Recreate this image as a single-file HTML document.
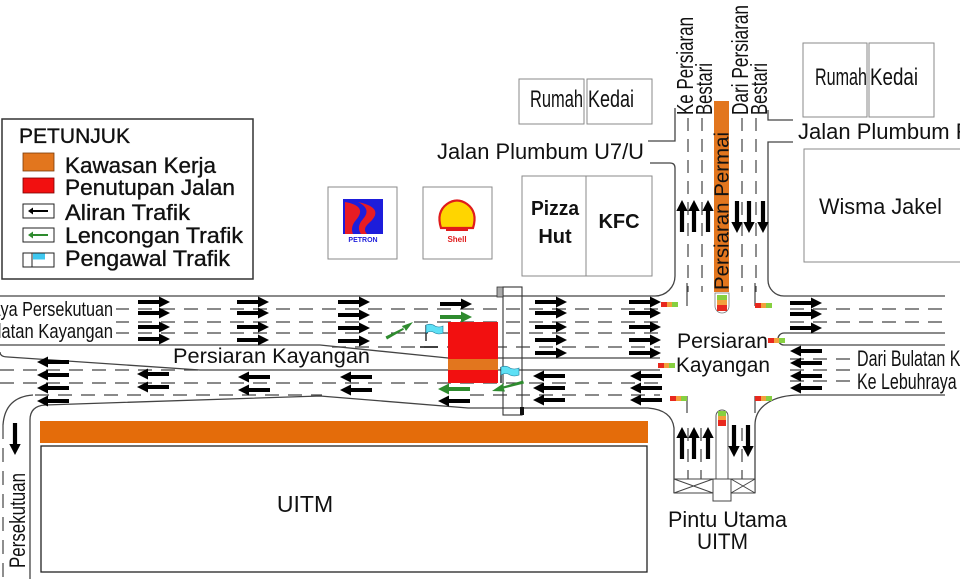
<!DOCTYPE html>
<html><head><meta charset="utf-8"><style>
html,body{margin:0;padding:0;background:#fff;}
body{width:960px;height:579px;overflow:hidden;}
svg{display:block;}
text{font-family:"Liberation Sans",Arial,sans-serif;fill:#111;}
</style></head><body>
<svg width="960" height="579" viewBox="0 0 960 579" xmlns="http://www.w3.org/2000/svg">
<defs>
<path id="R" d="M0,-2H21V-5.5L32,0L21,5.5V2H0Z"/>
<path id="L" d="M32,-2H11V-5.5L0,0L11,5.5V2H32Z"/>
<path id="U" d="M-2.1,32V11H-5.7L0,0L5.7,11H2.1V32Z"/>
<path id="D" d="M-2.1,0V21H-5.7L0,32L5.7,21H2.1V0Z"/>
</defs>
<rect width="960" height="579" fill="#fff"/>

<!-- Legend -->
<rect x="2" y="119" width="251" height="160" fill="#fff" stroke="#333" stroke-width="1.5"/>
<g stroke="#111" stroke-width="0.35">
<text x="19" y="143" font-size="21" textLength="111" lengthAdjust="spacingAndGlyphs">PETUNJUK</text>
<text x="65" y="173" font-size="22" textLength="151" lengthAdjust="spacingAndGlyphs">Kawasan Kerja</text>
<text x="65" y="195" font-size="22" textLength="170" lengthAdjust="spacingAndGlyphs">Penutupan Jalan</text>
<text x="65" y="220" font-size="22" textLength="125" lengthAdjust="spacingAndGlyphs">Aliran Trafik</text>
<text x="65" y="243" font-size="22" textLength="178" lengthAdjust="spacingAndGlyphs">Lencongan Trafik</text>
<text x="65" y="266" font-size="22" textLength="165" lengthAdjust="spacingAndGlyphs">Pengawal Trafik</text>
</g>
<rect x="23" y="153" width="31" height="18" fill="#E2761E" stroke="#7a3a08" stroke-width="0.8"/>
<rect x="23" y="178" width="31" height="15" fill="#F21010" stroke="#7a0000" stroke-width="0.8"/>
<rect x="23" y="204" width="31" height="14" fill="#fff" stroke="#222" stroke-width="1"/>
<path d="M48,210H33V207.5L28,211L33,214.5V212H48Z" fill="#000"/>
<rect x="23" y="228" width="31" height="14" fill="#fff" stroke="#222" stroke-width="1"/>
<path d="M48,234H33V231.5L28,235L33,238.5V236H48Z" fill="#2E8B2E"/>
<rect x="23" y="253" width="31" height="14" fill="#fff" stroke="#222" stroke-width="1"/>
<line x1="32" y1="253" x2="32" y2="267" stroke="#222" stroke-width="1"/>
<path d="M33,253.5H45V259.5H33Z" fill="#3FC8F0"/>

<!-- Buildings top center -->
<rect x="519" y="79" width="65" height="45" fill="none" stroke="#8a8a8a"/>
<rect x="587" y="79" width="65" height="45" fill="none" stroke="#8a8a8a"/>
<text x="530" y="107" font-size="24" textLength="53" lengthAdjust="spacingAndGlyphs">Rumah</text>
<text x="588" y="107" font-size="24" textLength="46" lengthAdjust="spacingAndGlyphs">Kedai</text>
<text x="437" y="159" font-size="22" textLength="207" lengthAdjust="spacingAndGlyphs">Jalan Plumbum U7/U</text>

<rect x="522" y="176" width="130" height="100" fill="none" stroke="#8a8a8a"/>
<line x1="586" y1="176" x2="586" y2="276" stroke="#8a8a8a"/>
<text x="555" y="215" font-size="20" font-weight="bold" text-anchor="middle" textLength="48" lengthAdjust="spacingAndGlyphs">Pizza</text>
<text x="555" y="243" font-size="20" font-weight="bold" text-anchor="middle">Hut</text>
<text x="619" y="228" font-size="20" font-weight="bold" text-anchor="middle">KFC</text>

<!-- Petron -->
<rect x="328" y="187" width="69" height="72" fill="#fff" stroke="#8a8a8a"/>
<rect x="343" y="199" width="40" height="35" fill="#1d1ddb"/>
<path d="M345,202 Q368,206 356,220 Q350,227 353,234 L345,234 Z" fill="#e81c24"/>
<path d="M358,202 Q386,208 369,223 Q362,229 367,234 L361,234 Q356,227 363,219 Q372,209 358,202Z" fill="#e81c24"/>
<text x="363" y="242" font-size="7" font-weight="bold" text-anchor="middle" style="fill:#1d1ddb">PETRON</text>
<!-- Shell -->
<rect x="423" y="187" width="69" height="72" fill="#fff" stroke="#8a8a8a"/>
<path d="M441,228 Q436,212 447,204 Q457,197 467,204 Q478,212 473,228 Z" fill="#ffd500" stroke="#e01b1b" stroke-width="2.2"/>
<rect x="446" y="227" width="22" height="4" fill="#e01b1b"/>
<text x="457" y="242" font-size="8" font-weight="bold" text-anchor="middle" style="fill:#e01b1b">Shell</text>

<!-- Buildings top right -->
<rect x="803" y="43" width="64" height="74" fill="none" stroke="#8a8a8a"/>
<rect x="869" y="43" width="65" height="74" fill="none" stroke="#8a8a8a"/>
<text x="815" y="85" font-size="24" textLength="52" lengthAdjust="spacingAndGlyphs">Rumah</text>
<text x="870" y="85" font-size="24" textLength="48" lengthAdjust="spacingAndGlyphs">Kedai</text>
<text x="798" y="139" font-size="22">Jalan Plumbum R</text>
<rect x="804" y="149" width="170" height="113" fill="none" stroke="#8a8a8a"/>
<text x="819" y="214" font-size="22" textLength="123" lengthAdjust="spacingAndGlyphs">Wisma Jakel</text>

<!-- Road edges -->
<g fill="none" stroke="#444" stroke-width="1.3">
<path d="M0,296 H655 A20,20 0 0 0 675,276 V168 Q675,163 670,163 H650"/>
<path d="M648,141 H675 V108"/>
<path d="M768,110 V120 H793"/>
<path d="M793,142 H768 V280 A16,16 0 0 0 784,296 H945"/>
<path d="M945,333 H784 A6,6 0 0 0 784,345 H945"/>
<path d="M945,395 H800 C775,395 755,405 755,425 V493"/>
<path d="M0,345 H320 L448,358 H660"/>
<path d="M0,352 Q0,357 8,357 L200,370 H660"/>
<path d="M30,579 V420 Q30,406 45,405 L320,396 L468,408 H648 Q672,410 674,428 V493"/>
<path d="M33,395 Q5,397 3,425"/>
</g>
<g fill="none" stroke="#444" stroke-width="1.2" stroke-dasharray="14 9">
<path d="M0,309H660 M0,322H660 M0,333H660 M332,347H660"/>
<path d="M0,370H200 M0,383H660 M35,395H322 M470,395H660"/>
<path d="M790,309H945 M790,322H945"/>
<path d="M790,359H945 M790,370H945 M790,381H945"/>
<path d="M3,425V579"/>
</g>
<g fill="none" stroke="#444" stroke-width="1.2" stroke-dasharray="13 8">
<path d="M688,118V292 M702,118V292 M742,118V292 M756,118V292"/>
<path d="M688,428V479 M701,428V479 M742,428V479"/>
</g>

<!-- Label backgrounds -->
<rect x="0" y="300" width="116" height="41" fill="#fff"/>
<rect x="852" y="348" width="108" height="44" fill="#fff"/>
<text transform="translate(113,316) scale(0.81,1)" font-size="20" text-anchor="end">Lebuhraya Persekutuan</text>
<text transform="translate(113,338) scale(0.83,1)" font-size="20" text-anchor="end">Bulatan Kayangan</text>
<text x="857" y="366" font-size="22" textLength="165" lengthAdjust="spacingAndGlyphs">Dari Bulatan Kayangan</text>
<text x="857" y="389" font-size="22" textLength="194" lengthAdjust="spacingAndGlyphs">Ke Lebuhraya Persekutuan</text>
<text x="173" y="363" font-size="21" textLength="197" lengthAdjust="spacingAndGlyphs">Persiaran Kayangan</text>

<!-- Orange bar Persiaran Permai -->
<rect x="714" y="101" width="15" height="191" fill="#E2761E"/>
<text transform="translate(728.5,290) rotate(-90)" font-size="20" textLength="158" lengthAdjust="spacingAndGlyphs">Persiaran Permai</text>
<text transform="translate(693,115) rotate(-90)" font-size="23" textLength="98" lengthAdjust="spacingAndGlyphs">Ke Persiaran</text>
<text transform="translate(712,115) rotate(-90)" font-size="23" textLength="52" lengthAdjust="spacingAndGlyphs">Bestari</text>
<text transform="translate(748,115) rotate(-90)" font-size="23" textLength="110" lengthAdjust="spacingAndGlyphs">Dari Persiaran</text>
<text transform="translate(767,115) rotate(-90)" font-size="23" textLength="52" lengthAdjust="spacingAndGlyphs">Bestari</text>

<!-- Top pill light -->
<path d="M715,293 H729 V306 A7,7 0 0 1 715,306 Z" fill="#fff" stroke="#777" stroke-width="0.8"/>
<rect x="717" y="295" width="10" height="5" fill="#86D040"/>
<rect x="717" y="300" width="10" height="5" fill="#F2A03C"/>
<rect x="717" y="305" width="10" height="6" fill="#E8281E"/>

<!-- Intersection text -->
<text x="677" y="348" font-size="21" textLength="91" lengthAdjust="spacingAndGlyphs">Persiaran</text>
<text x="676" y="372" font-size="21" textLength="94" lengthAdjust="spacingAndGlyphs">Kayangan</text>

<!-- Traffic lights -->
<g>
<path d="M687,283V306 M755,283V306 M687,396V413 M755,396V413" stroke="#444" stroke-width="1.2" fill="none"/>
<g transform="translate(661,302)"><rect width="6" height="5" fill="#E8281E"/><rect x="6" width="5" height="5" fill="#F2A03C"/><rect x="11" width="6" height="5" fill="#86D040"/></g>
<g transform="translate(755,303)"><rect width="6" height="5" fill="#E8281E"/><rect x="6" width="5" height="5" fill="#F2A03C"/><rect x="11" width="6" height="5" fill="#86D040"/></g>
<g transform="translate(768,338)"><rect width="6" height="5" fill="#E8281E"/><rect x="6" width="5" height="5" fill="#F2A03C"/><rect x="11" width="6" height="5" fill="#86D040"/></g>
<g transform="translate(658,363)"><rect width="6" height="5" fill="#E8281E"/><rect x="6" width="5" height="5" fill="#F2A03C"/><rect x="11" width="6" height="5" fill="#86D040"/></g>
<g transform="translate(670,396)"><rect width="6" height="5" fill="#E8281E"/><rect x="6" width="5" height="5" fill="#F2A03C"/><rect x="11" width="6" height="5" fill="#86D040"/></g>
<g transform="translate(755,396)"><rect width="6" height="5" fill="#E8281E"/><rect x="6" width="5" height="5" fill="#F2A03C"/><rect x="11" width="6" height="5" fill="#86D040"/></g>
</g>

<!-- Lower road median, pill and gate -->
<path d="M716,479 V416 A6,6 0 0 1 728,416 V479" fill="#fff" stroke="#555" stroke-width="1"/>
<rect x="718" y="411" width="8" height="5" fill="#86D040"/>
<rect x="718" y="416" width="8" height="4" fill="#F2A03C"/>
<rect x="718" y="420" width="8" height="6" fill="#E8281E"/>
<g fill="none" stroke="#444" stroke-width="1">
<rect x="674" y="479" width="81" height="14" fill="#fff"/>
<rect x="713" y="479" width="18" height="22" fill="#fff"/>
<path d="M674,479 L713,493 M674,493 L713,479 M731,479 L755,493 M731,493 L755,479"/>
</g>
<text x="668" y="527" font-size="22" textLength="119" lengthAdjust="spacingAndGlyphs">Pintu Utama</text>
<text x="697" y="549" font-size="22" textLength="51" lengthAdjust="spacingAndGlyphs">UITM</text>

<!-- UITM -->
<rect x="40" y="421" width="608" height="22" fill="#E46C0A"/>
<rect x="41" y="446" width="606" height="126" fill="#fff" stroke="#222" stroke-width="1.3"/>
<text x="305" y="512" font-size="23" text-anchor="middle">UITM</text>
<use href="#D" x="15" y="423"/>
<text transform="translate(25,568) rotate(-90)" font-size="22" textLength="95" lengthAdjust="spacingAndGlyphs">Persekutuan</text>

<!-- Closure & bridge -->
<rect x="448" y="322" width="50" height="61" fill="#F21010"/>
<rect x="448" y="359" width="50" height="11" fill="#E2761E"/>
<rect x="503" y="287" width="19" height="128" fill="none" stroke="#333" stroke-width="1.1"/>
<rect x="497" y="287" width="6" height="10" fill="#aaa" stroke="#333" stroke-width="0.8"/>
<rect x="520" y="407" width="4" height="8" fill="#111"/>

<!-- Flags -->
<line x1="426" y1="325" x2="426" y2="341" stroke="#111" stroke-width="1.3"/>
<path d="M426,325 Q431,323 435,326 Q439,328 443,326 V333 Q439,335 435,333 Q431,330 426,333 Z" fill="#5EE0F5" stroke="#1a7a9a" stroke-width="0.6"/>
<line x1="420" y1="347" x2="438" y2="347" stroke="#111" stroke-width="1.6"/>
<line x1="501" y1="367" x2="501" y2="383" stroke="#111" stroke-width="1.3"/>
<path d="M501,367 Q506,365 510,368 Q514,370 519,368 V375 Q514,377 510,375 Q506,372 501,375 Z" fill="#5EE0F5" stroke="#1a7a9a" stroke-width="0.6"/>

<!-- Black arrows -->
<g fill="#000">
<use href="#R" x="138" y="302"/><use href="#R" x="138" y="313"/><use href="#R" x="138" y="327"/><use href="#R" x="138" y="339"/>
<use href="#R" x="237" y="302"/><use href="#R" x="237" y="313"/><use href="#R" x="237" y="327"/><use href="#R" x="237" y="340"/>
<use href="#R" x="338" y="302"/><use href="#R" x="338" y="315"/><use href="#R" x="338" y="328"/><use href="#R" x="338" y="341"/>
<use href="#R" x="440" y="304"/>
<use href="#R" x="535" y="302"/><use href="#R" x="535" y="313"/><use href="#R" x="535" y="327"/><use href="#R" x="535" y="340"/><use href="#R" x="535" y="353"/>
<use href="#R" x="629" y="302"/><use href="#R" x="629" y="313"/><use href="#R" x="629" y="327"/><use href="#R" x="629" y="340"/><use href="#R" x="629" y="353"/>
<use href="#R" x="790" y="303"/><use href="#R" x="790" y="314"/><use href="#R" x="790" y="328"/>

<use href="#L" x="37" y="362"/><use href="#L" x="37" y="375"/><use href="#L" x="37" y="388"/><use href="#L" x="37" y="401"/>
<use href="#L" x="137" y="374"/><use href="#L" x="137" y="387"/>
<use href="#L" x="238" y="377"/><use href="#L" x="238" y="390"/>
<use href="#L" x="340" y="377"/><use href="#L" x="340" y="390"/>
<use href="#L" x="438" y="401"/>
<use href="#L" x="533" y="376"/><use href="#L" x="533" y="388"/><use href="#L" x="533" y="400"/>
<use href="#L" x="630" y="376"/><use href="#L" x="630" y="388"/><use href="#L" x="630" y="400"/>
<use href="#L" x="790" y="351"/><use href="#L" x="790" y="363"/><use href="#L" x="790" y="376"/><use href="#L" x="790" y="388"/>

<use href="#U" x="682" y="200"/><use href="#U" x="694" y="200"/><use href="#U" x="708" y="200"/>
<use href="#D" x="737" y="201"/><use href="#D" x="749" y="201"/><use href="#D" x="763" y="201"/>
<use href="#U" x="682" y="427"/><use href="#U" x="694" y="427"/><use href="#U" x="708" y="427"/>
<use href="#D" x="734" y="425"/><use href="#D" x="748" y="425"/>
</g>

<!-- Green arrows -->
<g fill="#2E8B2E">
<use href="#R" x="440" y="317"/>
<use href="#L" x="438" y="389"/>
<path d="M387,339.5 L404,329.5 L402,326 L413,322 L406,331 L404,327.5 L385.5,336.5Z"/>
<path d="M523,380.5 L503,386.5 L504,383 L492,391 L505,391.5 L503.8,388.5 L524,383.5Z"/>
</g>
</svg>
</body></html>
